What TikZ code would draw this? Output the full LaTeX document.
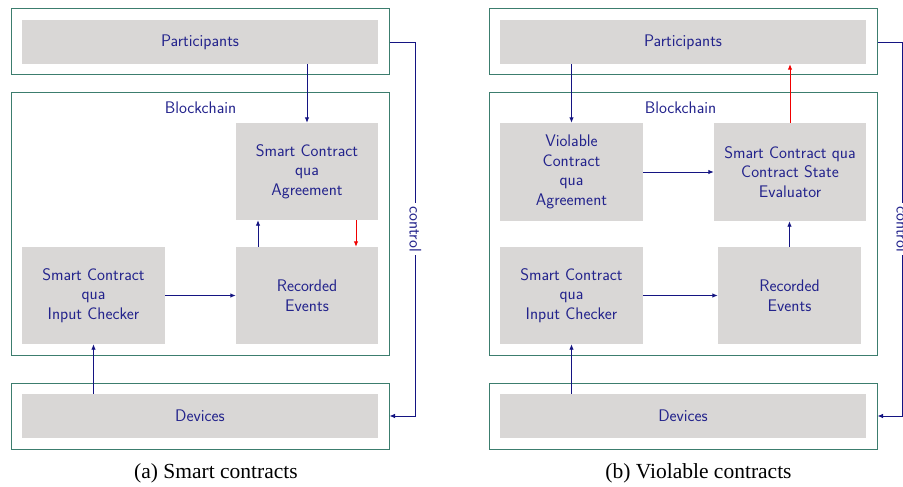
\documentclass[tikz,border=0pt]{standalone}
\usepackage{fontspec}
\setmainfont{Liberation Serif}
\setsansfont{Latin Modern Sans}
\usetikzlibrary{arrows.meta,calc}
\definecolor{textblue}{RGB}{35,35,140}
\definecolor{linenavy}{RGB}{20,20,130}
\definecolor{bordergreen}{RGB}{60,125,110}
\definecolor{boxgray}{RGB}{217,215,214}
\definecolor{arrred}{RGB}{240,0,0}
\tikzset{
  outerbox/.style={draw=bordergreen,line width=1pt,fill=none,inner sep=0pt,minimum width=#1,minimum height=66pt},
  bcbox/.style={draw=bordergreen,line width=1pt,fill=none,inner sep=0pt,minimum width=#1,minimum height=262pt},
  graybox/.style={fill=boxgray,text=textblue,font=\sffamily\fontsize{16.8}{19.5}\selectfont,align=center,inner sep=0pt},
  lbl/.style={text=textblue,font=\sffamily\fontsize{16.8}{19.5}\selectfont},
  arr/.style={draw=linenavy,line width=0.9pt,-{Latex[length=5.5pt,width=4.5pt]}},
  redarr/.style={draw=arrred,line width=0.9pt,-{Latex[length=5.5pt,width=4.5pt]}},
  captxt/.style={font=\fontsize{21.5}{25}\selectfont}
}
\begin{document}
\begin{tikzpicture}[x=1pt,y=-1pt]
\useasboundingbox (0,0) rectangle (903,487);
% ---------------- (a) ----------------
\node[outerbox=378pt] (apo) at (200,42) {};
\node[graybox,minimum width=356pt,minimum height=44pt] (api) at (200,42) {Participants};
\node[bcbox=378pt] (abc) at (200,224) {};
\node[lbl] (abcl) at (200.5,107.5) {Blockchain};
\node[graybox,minimum width=142pt,minimum height=97pt] (aag) at (307,171.5) {Smart Contract\\qua\\Agreement};
\node[graybox,minimum width=142pt,minimum height=97pt] (are) at (307,295.5) {Recorded\\Events};
\node[graybox,minimum width=143pt,minimum height=97pt] (aic) at (93.5,295.5) {Smart Contract\\qua\\Input Checker};
\node[outerbox=378pt] (ado) at (200,416) {};
\node[graybox,minimum width=356pt,minimum height=44pt] (adi) at (200,416) {Devices};
\node[captxt] (acap) at (216,473) {(a) Smart contracts};
\draw[arr] (aag.north |- api.south) -- (aag.north);
\draw[arr] ([xshift=-49pt]are.north) -- ([xshift=-49pt]aag.south);
\draw[redarr] ([xshift=49pt]aag.south) -- ([xshift=49pt]are.north);
\draw[arr] (aic.east) -- (are.west);
\draw[arr] (aic.south |- adi.north) -- (aic.south);
\coordinate (ac1) at ($(apo.east)+(26,0)$);
\draw[arr] (apo.east) -- (ac1) -- (ac1 |- ado.east)
  node[midway,fill=white,rotate=-90,lbl,inner sep=3pt] (actl) {control} -- (ado.east);
% ---------------- (b) ----------------
\node[outerbox=388pt] (bpo) at (683,42) {};
\node[graybox,minimum width=366pt,minimum height=44pt] (bpi) at (683,42) {Participants};
\node[bcbox=388pt] (bbc) at (683,224) {};
\node[lbl] (bbcl) at (680.5,107.5) {Blockchain};
\node[graybox,minimum width=143pt,minimum height=98pt] (bvi) at (571.5,172) {Violable\\Contract\\qua\\Agreement};
\node[graybox,minimum width=152pt,minimum height=98pt] (bev) at (790,172) {Smart Contract qua\\Contract State\\Evaluator};
\node[graybox,minimum width=143pt,minimum height=97pt] (bic) at (571.5,295.5) {Smart Contract\\qua\\Input Checker};
\node[graybox,minimum width=143pt,minimum height=97pt] (bre) at (789.5,295.5) {Recorded\\Events};
\node[outerbox=388pt] (bdo) at (683,416) {};
\node[graybox,minimum width=366pt,minimum height=44pt] (bdi) at (683,416) {Devices};
\node[captxt] (bcap) at (698.5,473) {(b) Violable contracts};
\draw[arr] (bvi.north |- bpi.south) -- (bvi.north);
\draw[arr] (bvi.east) -- (bvi.east -| bev.west);
\draw[arr] (bre.north) -- (bre.north |- bev.south);
\draw[redarr] (bev.north) -- (bev.north |- bpi.south);
\draw[arr] (bic.east) -- (bre.west);
\draw[arr] (bic.south |- bdi.north) -- (bic.south);
\coordinate (bc1) at ($(bpo.east)+(25,0)$);
\draw[arr] (bpo.east) -- (bc1) -- (bc1 |- bdo.east)
  node[midway,fill=white,rotate=-90,lbl,inner sep=3pt] (bctl) {control} -- (bdo.east);
\end{tikzpicture}
\end{document}
